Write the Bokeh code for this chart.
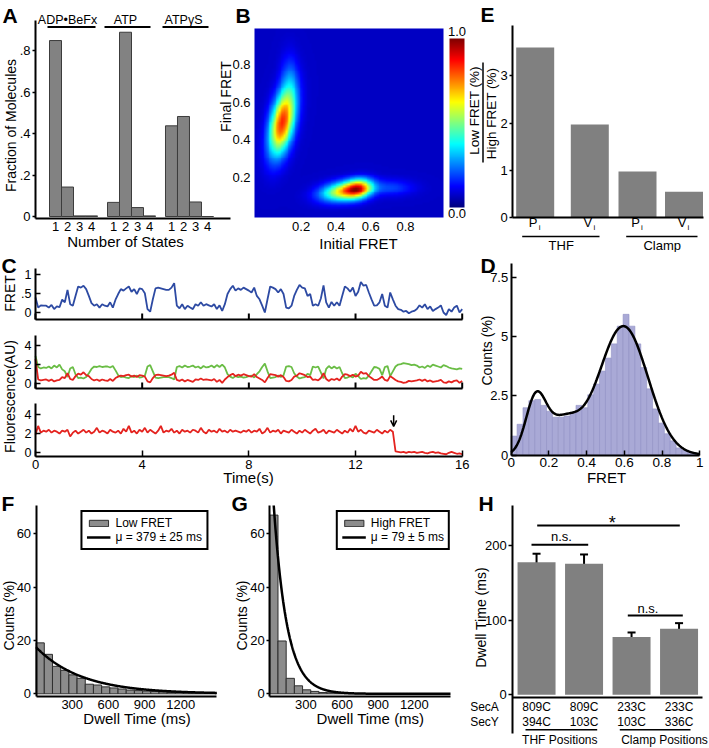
import numpy as np
from bokeh.plotting import figure
from bokeh.models import (Range1d, Label, Arrow, OpenHead, FixedTicker, Legend, LegendItem,
                          LinearColorMapper, Whisker, ColumnDataSource, TeeHead)
from bokeh.core.properties import value
from bokeh.layouts import row, column
from bokeh.embed import file_html
from bokeh.resources import INLINE

FONT = "Liberation Sans"

# ======================= DATA =======================
# A: fraction of molecules vs number of states
a_groups = ["ADP•BeFx", "ATP", "ATPγS"]
a_states = ["1", "2", "3", "4"]
a_adp_befx = [0.848, 0.142, 0.003, 0.003]
a_atp = [0.068, 0.888, 0.043, 0.003]
a_atpgs = [0.437, 0.482, 0.070, 0.0]

# B: transition density plot, components
b_cx = [0.088, 0.44, 0.53, 0.13, 0.72]
b_cy = [0.49, 0.12, 0.135, 0.72, 0.14]
b_sx = [0.047, 0.09, 0.055, 0.035, 0.09]
b_sy = [0.12, 0.035, 0.035, 0.10, 0.03]
b_kx = [0.18, 0.0, 0.0, 0.0, 0.0]
b_ky = [0.0, 0.10, 0.10, 0.0, 0.0]
b_amp = [1.15, 0.82, 0.85, 0.2, 0.18]
b_floor = 0.07
b_ticks = [0.2, 0.4, 0.6, 0.8]

# C: single-molecule traces (0.1 s frames)
c_fret = [0.40, 0.13, 0.19, 0.18, 0.18, 0.13, 0.20, 0.09, 0.16, 0.14,
          0.34, 0.27, 0.60, 0.22, 0.18, 0.44, 0.69, 0.66, 0.71, 0.62,
          0.44, 0.25, 0.18, 0.22, 0.13, 0.22, 0.18, 0.16, 0.27, 0.13,
          0.34, 0.49, 0.62, 0.58, 0.64, 0.69, 0.55, 0.62, 0.49, 0.64,
          0.62, 0.51, 0.09, 0.02, 0.35, 0.64, 0.66, 0.64, 0.62, 0.60,
          0.60, 0.66, 0.78, 0.18, 0.11, 0.22, 0.09, 0.18, 0.13, 0.09,
          0.22, 0.18, 0.27, 0.18, 0.22, 0.19, 0.16, 0.22, 0.09, 0.19,
          0.04, 0.22, 0.49, 0.62, 0.71, 0.58, 0.64, 0.60, 0.66, 0.62,
          0.58, 0.53, 0.66, 0.44, 0.35, 0.18, 0.00, 0.35, 0.69, 0.66,
          0.62, 0.53, 0.62, 0.49, 0.13, 0.11, 0.18, 0.44, 0.60, 0.73,
          0.66, 0.64, 0.44, 0.49, 0.18, 0.22, 0.18, 0.37, 0.72, 0.27,
          0.13, 0.28, 0.18, 0.27, 0.18, 0.44, 0.69, 0.64, 0.55, 0.66,
          0.44, 0.55, 0.81, 0.71, 0.73, 0.53, 0.35, 0.18, 0.19, 0.27,
          0.49, 0.18, 0.13, 0.53, 0.35, 0.18, 0.09, 0.07, 0.02, 0.04,
          -0.02, 0.02, 0.04, 0.09, 0.19, 0.13, 0.22, 0.09, 0.16, 0.04,
          0.09, 0.13, 0.19, 0.00, -0.07, 0.09, 0.02, 0.13, 0.18, 0.00, 0.09]
c_donor = [2.9, 1.75, 1.6, 1.7, 1.65, 1.8, 1.6, 1.9, 1.7, 2.0,
           1.5, 1.3, 0.7, 1.6, 1.75, 1.0, 0.6, 0.65, 0.55, 0.7,
           1.1, 1.55, 1.8, 1.75, 1.85, 1.75, 1.8, 1.8, 1.7, 1.85,
           1.4, 0.9, 0.7, 0.75, 0.65, 0.6, 0.8, 0.7, 0.85, 0.65,
           0.7, 0.85, 1.8, 1.95, 1.3, 0.65, 0.6, 0.65, 0.7, 0.7,
           0.7, 0.6, 0.45, 1.75, 1.85, 1.7, 1.9, 1.75, 1.8, 1.9,
           1.7, 1.8, 1.6, 1.85, 1.7, 1.75, 1.9, 1.7, 1.95, 1.75,
           2.0, 1.7, 1.0, 0.75, 0.6, 0.8, 0.7, 0.75, 0.65, 0.7,
           0.8, 0.85, 0.65, 1.0, 1.3, 1.75, 2.1, 1.3, 0.6, 0.65,
           0.7, 0.85, 0.7, 0.9, 1.8, 1.85, 1.75, 1.1, 0.75, 0.55,
           0.65, 0.7, 1.05, 0.9, 1.8, 1.7, 1.8, 1.2, 0.55, 1.55,
           1.85, 1.6, 1.8, 1.6, 1.75, 1.1, 0.6, 0.65, 0.8, 0.65,
           1.05, 0.8, 0.5, 0.6, 0.55, 0.85, 1.3, 1.75, 1.7, 1.55,
           0.9, 1.75, 1.85, 0.8, 1.3, 1.8, 2.0, 2.05, 2.15, 2.1,
           2.05, 1.95, 2.0, 1.9, 1.7, 1.8, 1.65, 1.9, 1.75, 2.0,
           1.9, 1.8, 1.7, 1.95, 1.85, 1.7, 1.6, 1.55, 1.5, 1.6, 1.55]
c_acceptor = [2.6, 0.45, 0.35, 0.4, 0.45, 0.3, 0.45, 0.25, 0.35, 0.4,
              0.7, 0.6, 1.1, 0.5, 0.4, 0.8, 1.05, 0.95, 1.2, 0.9,
              0.8, 0.5, 0.35, 0.45, 0.3, 0.45, 0.35, 0.3, 0.5, 0.3,
              0.6, 0.75, 0.85, 0.8, 0.9, 0.95, 0.75, 0.85, 0.7, 0.9,
              0.85, 0.75, 0.25, 0.15, 0.6, 0.9, 0.95, 0.9, 0.85, 0.8,
              0.85, 0.95, 1.15, 0.4, 0.3, 0.45, 0.25, 0.4, 0.3, 0.2,
              0.45, 0.4, 0.55, 0.4, 0.45, 0.4, 0.35, 0.5, 0.2, 0.4,
              0.1, 0.45, 0.7, 0.9, 1.05, 0.8, 0.95, 0.85, 1.0, 0.9,
              0.8, 0.75, 1.0, 0.7, 0.55, 0.4, 0.15, 0.6, 1.0, 0.95,
              0.9, 0.75, 0.9, 0.7, 0.3, 0.25, 0.4, 0.75, 0.85, 1.1,
              1.0, 0.9, 0.7, 0.75, 0.4, 0.45, 0.35, 0.6, 1.1, 0.5,
              0.3, 0.5, 0.4, 0.55, 0.35, 0.75, 1.0, 0.95, 0.8, 0.95,
              0.75, 0.85, 1.25, 1.05, 1.1, 0.8, 0.6, 0.4, 0.4, 0.55,
              0.75, 0.4, 0.3, 0.8, 0.6, 0.4, 0.25, 0.2, 0.1, 0.15,
              0.3, 0.25, 0.3, 0.35, 0.45, 0.3, 0.45, 0.25, 0.35, 0.2,
              0.25, 0.3, 0.4, 0.15, 0.1, 0.25, 0.15, 0.3, 0.35, 0.1, 0.3]
c_acceptor_direct = [1.9, 2.8, 2.1, 2.3, 2.2, 2.4, 2.1, 2.3, 2.2, 2.0,
                     2.3, 2.2, 2.4, 1.7, 2.1, 2.3, 2.0, 2.2, 2.4, 2.1,
                     2.3, 2.0, 2.2, 2.6, 2.1, 2.3, 2.2, 2.0, 2.4, 2.2,
                     2.1, 2.3, 2.0, 2.5, 2.2, 2.8, 2.1, 2.3, 2.0, 2.4,
                     2.2, 2.6, 2.1, 2.4, 2.2, 2.0, 2.3, 2.8, 2.1, 2.3,
                     2.2, 2.5, 2.1, 2.3, 2.0, 2.4, 2.2, 2.3, 2.1, 2.4,
                     2.3, 2.1, 2.6, 2.2, 2.0, 2.4, 2.2, 2.3, 2.1, 2.5,
                     2.2, 2.3, 2.1, 2.4, 2.2, 2.3, 2.2, 2.1, 2.3, 2.2,
                     2.4, 2.1, 2.3, 2.2, 2.5, 2.0, 2.2, 2.6, 2.1, 2.3,
                     2.2, 2.4, 2.0, 2.3, 2.2, 2.1, 2.4, 2.2, 2.0, 2.3,
                     2.1, 2.4, 2.2, 2.0, 2.3, 2.5, 2.1, 2.2, 2.4, 2.0,
                     2.3, 2.2, 2.1, 2.4, 2.2, 2.0, 2.3, 2.1, 2.5, 2.2,
                     2.8, 2.2, 2.4, 2.1, 2.0, 2.3, 2.2, 2.1, 2.4, 2.2,
                     2.0, 2.3, 2.1, 2.4, 2.2, 0.15, 0.1, 0.05, 0.1, 0.0,
                     0.1, 0.05, 0.1, 0.0, 0.05, 0.1, 0.0, -0.05, 0.05, 0.1,
                     0.0, 0.05, -0.05, -0.1, -0.15, 0.0, 0.1, 0.0, -0.1, -0.05, -0.15]
c_frame_s = 0.1
c_bleach_s = 13.43
c_time_ticks = [0, 4, 8, 12, 16]

# D: FRET histogram (32 bins on 0..1) and Gaussian fit
d_counts = [0.8, 1.3, 2.0, 2.3, 2.35, 2.1, 1.85, 1.6, 1.6, 1.65,
            1.8, 2.1, 2.0, 2.55, 3.0, 3.55, 4.1, 4.7, 5.45, 5.95,
            5.45, 4.7, 3.7, 2.8, 1.95, 1.35, 0.9, 0.6, 0.3, 0.2, 0.1, 0.03]
d_fit_mu = [0.13, 0.27, 0.595]
d_fit_sd = [0.053, 0.09, 0.13]
d_fit_amp = [2.23, 1.4, 5.45]

# E: ratio low/high FRET
e_groups = ["THF", "Clamp"]
e_labels = ["P", "V", "P", "V"]
e_values = [3.6, 1.97, 0.98, 0.55]

# F / G: dwell-time histograms (68 ms bins) and exponential fit curves as drawn
dwell_bin_ms = 68
f_counts = [19.1, 14.8, 10.3, 8.8, 7.1, 5.8, 3.6, 3.3, 2.6, 2.2, 1.8,
            1.4, 1.2, 1.0, 0.9, 0.7, 0.5, 0.6, 0.4, 0.3, 0.3, 0.2]
f_fit_amp, f_fit_tau = 17.5, 379
g_counts = [67.0, 19.8, 5.8, 3.0, 1.5, 0.9, 0.5, 0.4, 0.3, 0.2, 0.1,
            0.1, 0.05, 0.05, 0, 0, 0, 0, 0, 0, 0, 0]
g_fit_amp, g_fit_tau = 95, 110
dwell_ticks = [300, 600, 900, 1200]

# H: dwell times per labelling pair
h_seca = ["809C", "809C", "233C", "233C"]
h_secy = ["394C", "103C", "103C", "336C"]
h_groups = ["THF Positions", "Clamp Positions"]
h_dwell = [177.5, 175.5, 77.5, 88.5]
h_err = [11.5, 12.5, 6.0, 7.5]


# ======================= HELPERS =======================
def panel(left, top, w, h, box=None, xr=None, yr=None, axes=True):
    """Figure whose frame fills the canvas; axes are pinned (fixed_location) to the plot box."""
    if box is None:
        box, xr, yr = (left, left + w, top, top + h), (0, w), (0, h)
    fl, fr, ft, fb = box
    sx = (xr[1] - xr[0]) / (fr - fl)
    sy = (yr[1] - yr[0]) / (fb - ft)
    X0, X1 = xr[0] + (left - fl) * sx, xr[0] + (left + w - fl) * sx
    Y0, Y1 = yr[0] + (fb - (top + h)) * sy, yr[0] + (fb - top) * sy
    kw = {} if axes else dict(x_axis_location=None, y_axis_location=None)
    p = figure(width=w, height=h, x_range=Range1d(X0, X1), y_range=Range1d(Y0, Y1),
               output_backend="svg", toolbar_location=None,
               min_border_left=0, min_border_right=0, min_border_top=0, min_border_bottom=0, **kw)
    p.outline_line_color = None
    p.grid.visible = False
    p.background_fill_color = "white"
    p.border_fill_color = "white"
    if axes:
        p.xaxis.fixed_location = yr[0]
        p.yaxis.fixed_location = xr[0]
        p.xaxis.bounds = tuple(xr)
        p.yaxis.bounds = tuple(yr)

    def m(ix, iy):
        return xr[0] + (ix - fl) * sx, yr[0] + (fb - iy) * sy
    return p, m


def axstyle(ax, size="13px", lw=2, tin=0, tout=0, standoff=3, ticks=None, overrides=None):
    ax.axis_line_width = lw
    ax.axis_line_color = "black"
    ax.major_tick_line_width = 1.5
    ax.major_tick_line_color = "black"
    ax.major_tick_in = tin
    ax.major_tick_out = tout
    ax.minor_tick_line_color = None
    ax.major_label_text_font = FONT
    ax.major_label_text_font_size = size
    ax.major_label_text_color = "black"
    ax.major_label_standoff = standoff
    if ticks is not None:
        ax.ticker = FixedTicker(ticks=ticks)
    if overrides is not None:
        ax.major_label_overrides = overrides


def txt(p, m, ix, iy, text, size=13, angle=0, align="center", base="middle", bold=False):
    x, y = m(ix, iy)
    p.add_layout(Label(x=x, y=y, text=text, angle=angle, text_align=align, text_baseline=base,
                       text_font=FONT, text_font_size=f"{size}px",
                       text_font_style="bold" if bold else "normal", text_color="black"))


def hseg(p, m, ix0, ix1, iy, lw=1.5):
    x0, y0 = m(ix0, iy)
    x1, _ = m(ix1, iy)
    p.segment(x0=[x0], y0=[y0], x1=[x1], y1=[y0], line_color="black", line_width=lw)


def vseg(p, m, ix, iy0, iy1, lw=1.5):
    x0, y0 = m(ix, iy0)
    _, y1 = m(ix, iy1)
    p.segment(x0=[x0], y0=[y0], x1=[x0], y1=[y1], line_color="black", line_width=lw)


def letter(p, m, ix, iy, t):
    txt(p, m, ix, iy, t, size=21, align="left", base="top", bold=True)


# ======================= PANEL A (canvas also hosts B's y title) =======================
pA, mA = panel(0, 0, 232, 252, (35, 230, 8, 218), (0, 195 / 12), (-2 / 207.5, 208 / 207.5))
a_x = [round((20 + 58 * g + 12 * s) / 12, 4) for g in range(3) for s in range(4)]
a_top = a_adp_befx + a_atp + a_atpgs
pA.vbar(x=a_x, top=a_top, width=1.0, bottom=0, fill_color="#828282", line_color="#3c3c3c", line_width=1)
axstyle(pA.xaxis[0], ticks=a_x, overrides={x: a_states[i % 4] for i, x in enumerate(a_x)}, standoff=3)
axstyle(pA.yaxis[0], tout=3, standoff=2, ticks=[0, 0.2, 0.4, 0.6, 0.8],
        overrides={0: "0", 0.2: ".2", 0.4: ".4", 0.6: ".6", 0.8: ".8"})
pA.yaxis[0].bounds = (-2 / 207.5, 0.945)
for gi, (cx, lx0, lx1) in enumerate([(67, 47, 95), (125, 104, 150), (183, 162, 208)]):
    txt(pA, mA, cx, 19, a_groups[gi], size=12.5)
    hseg(pA, mA, lx0, lx1, 26.5, lw=2)
txt(pA, mA, 10.5, 125, "Fraction of Molecules", size=14, angle=np.pi / 2)
txt(pA, mA, 125, 241, "Number of States", size=15)
txt(pA, mA, 225, 96, "Final FRET", size=14, angle=np.pi / 2)
letter(pA, mA, 2, 3, "A")

# ======================= PANEL B (+ colour bar) =======================
bxr, byr = (-0.068, 1.018), (-0.015, 0.994)
pB, mB = panel(232, 0, 234, 252, (254, 443, 28, 217), bxr, byr)


def jet(v):
    r = np.clip(1.5 - abs(4 * v - 3), 0, 1)
    g = np.clip(1.5 - abs(4 * v - 2), 0, 1)
    b = np.clip(1.5 - abs(4 * v - 1), 0, 1)
    return "#%02x%02x%02x" % (int(r * 255), int(g * 255), int(b * 255))


jet_palette = [jet(v) for v in np.linspace(0, 1, 256)]
cmap = LinearColorMapper(palette=jet_palette, low=0, high=1)
gx = np.linspace(bxr[0], bxr[1], 110)
gy = np.linspace(byr[0], byr[1], 100)
GX, GY = np.meshgrid(gx, gy)
S = np.zeros_like(GX)
for cx, cy, sx, sy, kx, ky, amp in zip(b_cx, b_cy, b_sx, b_sy, b_kx, b_ky, b_amp):
    dx = (GX - cx) - kx * (GY - cy)
    dy = (GY - cy) - ky * (GX - cx)
    S += amp * np.exp(-0.5 * (dx / sx) ** 2 - 0.5 * (dy / sy) ** 2)
Z = b_floor + (1 - b_floor) * S / S.max()
pB.image(image=[Z], x=bxr[0], y=byr[0], dw=bxr[1] - bxr[0], dh=byr[1] - byr[0], color_mapper=cmap)
for ax in (pB.xaxis[0], pB.yaxis[0]):
    axstyle(ax, ticks=b_ticks, standoff=4)
    ax.axis_line_color = None
    ax.major_tick_line_color = None
grad = np.linspace(0, 1, 256).reshape(256, 1)
gx0, gy0 = mB(449, 207)
gx1, gy1 = mB(464, 38)
pB.image(image=[grad], x=gx0, y=gy0, dw=gx1 - gx0, dh=gy1 - gy0, color_mapper=cmap)
txt(pB, mB, 456.5, 31, "1.0", size=13)
txt(pB, mB, 456.5, 213, "0.0", size=13)
txt(pB, mB, 358, 243, "Initial FRET", size=15)
letter(pB, mB, 235, 3, "B")

# ======================= PANEL E =======================
pE, mE = panel(466, 0, 243, 252, (512.3, 702.7, 25, 217.3), (0, 190.4 / 47), (0, 192.3 / 47.3))
e_pos = [round((c - 512.3) / 47, 4) for c in (534.7, 589.3, 637.0, 683.5)]
pE.vbar(x=e_pos, top=e_values, width=38 / 47, fill_color="#808080", line_color=None)
axstyle(pE.xaxis[0], ticks=[])
axstyle(pE.yaxis[0], tout=3, standoff=2, ticks=[0, 1, 2, 3])
for i, xd in enumerate(e_pos):
    ix = 512.3 + xd * 47
    txt(pE, mE, ix - 2, 222, e_labels[i], size=13)
    txt(pE, mE, ix + 4.5, 227, "i", size=8)
hseg(pE, mE, 521.7, 599, 236)
hseg(pE, mE, 625.7, 697, 236)
txt(pE, mE, 560.7, 245, e_groups[0], size=13)
txt(pE, mE, 661.7, 245, e_groups[1], size=13)
txt(pE, mE, 474, 110, "Low FRET (%)", size=13.5, angle=np.pi / 2)
txt(pE, mE, 491, 113, "High FRET (%)", size=13.5, angle=np.pi / 2)
vseg(pE, mE, 482.5, 62, 162, lw=1.5)
letter(pE, mE, 480, 2, "E")

# ======================= PANEL C =======================
c_t = [round(i * c_frame_s, 2) for i in range(len(c_fret))]


def c_ticks(p, yr, px_per_unit):
    p.segment(x0=c_time_ticks, y0=[yr[0]] * 5, x1=c_time_ticks, y1=[yr[0] + 6 / px_per_unit] * 5,
              line_color="black", line_width=2)


c_top_yr = (-0.186, 1.167)
pCt, mCt = panel(0, 252, 470, 69, (35, 461.7, 268, 319), (0, 16.0), c_top_yr)
pCt.line(c_t, c_fret, line_color="#2D4AA3", line_width=1.8)
axstyle(pCt.xaxis[0], ticks=[])
c_ticks(pCt, c_top_yr, 51 / (c_top_yr[1] - c_top_yr[0]))
axstyle(pCt.yaxis[0], tin=5, ticks=[0, 0.5, 1], overrides={0: "0", 0.5: ".5", 1: "1"}, standoff=4, size="12.5px")
txt(pCt, mCt, 9, 293, "FRET", size=14, angle=np.pi / 2)
letter(pCt, mCt, 1, 253, "C")

c_mid_yr = (-0.49, 5.03)
pCm, mCm = panel(22, 321, 448, 71, (35, 461.7, 335, 388), (0, 16.0), c_mid_yr)
pCm.line(c_t, c_donor, line_color="#6ABD45", line_width=1.8)
pCm.line(c_t, c_acceptor, line_color="#E4231F", line_width=1.8)
axstyle(pCm.xaxis[0], ticks=[])
c_ticks(pCm, c_mid_yr, 53 / (c_mid_yr[1] - c_mid_yr[0]))
axstyle(pCm.yaxis[0], tin=5, ticks=[0, 2, 4], standoff=4, size="12.5px")

pCb, mCb = panel(22, 392, 448, 98, (35, 461.7, 403, 456), (0, 16.0), (-0.385, 5.135))
pCb.line(c_t, c_acceptor_direct, line_color="#E4231F", line_width=1.8)
axstyle(pCb.xaxis[0], tin=6, ticks=c_time_ticks, standoff=3, size="13px")
axstyle(pCb.yaxis[0], tin=5, ticks=[0, 2, 4], standoff=4, size="12.5px")
pCb.add_layout(Arrow(end=OpenHead(size=6, line_width=1.5), x_start=c_bleach_s, y_start=3.9,
                     x_end=c_bleach_s, y_end=2.75, line_width=1.5, line_color="black"))
txt(pCb, mCb, 248, 477, "Time(s)", size=15)

pClab, mClab = panel(0, 321, 22, 169, axes=False)
txt(pClab, mClab, 9, 396, "Fluorescence(AU)", size=14, angle=np.pi / 2)

# ======================= PANEL D =======================
pD, mD = panel(470, 252, 239, 238, (510.7, 699.2, 263, 455), (0, 1.0), (-0.02, 8.1))
d_edges = np.linspace(0, 1, len(d_counts) + 1)
pD.quad(left=d_edges[:-1], right=d_edges[1:], top=d_counts, bottom=0,
        fill_color="#A9A9D6", line_color="#9090C4", line_width=0.6)
d_x = np.linspace(0, 1, 400)
d_y = sum(a * np.exp(-0.5 * ((d_x - mu) / sd) ** 2) for mu, sd, a in zip(d_fit_mu, d_fit_sd, d_fit_amp))
pD.line(d_x, d_y, line_color="black", line_width=2.5)
axstyle(pD.xaxis[0], tin=5, ticks=[0, 0.2, 0.4, 0.6, 0.8, 1],
        overrides={0: "0", 0.2: "0.2", 0.4: "0.4", 0.6: "0.6", 0.8: "0.8", 1: "1"}, standoff=2, size="13.5px")
axstyle(pD.yaxis[0], tin=5, ticks=[0, 2.5, 5, 7.5], standoff=3, size="13px")
txt(pD, mD, 486.5, 350, "Counts (%)", size=14, angle=np.pi / 2)
txt(pD, mD, 606, 476.7, "FRET", size=15)
letter(pD, mD, 480, 253, "D")


# ======================= PANELS F, G =======================
def dwell_panel(left, w, box_l, box_r, counts, amp, tau, lab, fitlab, margin, title_x, ylab_x, let, let_x):
    yr = (-1.01, 70.6)
    p, m = panel(left, 490, w, 258, (box_l, box_r, 505, 696), (0, 1500), yr)
    edges = np.arange(len(counts) + 1) * dwell_bin_ms
    r1 = p.quad(left=edges[:-1], right=edges[1:], top=counts, bottom=0,
                fill_color="#8C8C8C", line_color="#2e2e2e", line_width=1)
    t_start = max(0.0, tau * np.log(amp / yr[1]))
    tt = np.linspace(t_start, 1500, 600)
    r2 = p.line(tt, amp * np.exp(-tt / tau), line_color="black", line_width=2.5)
    axstyle(p.xaxis[0], ticks=dwell_ticks, standoff=3)
    axstyle(p.yaxis[0], tout=3, standoff=2, ticks=[0, 20, 40, 60])
    leg = Legend(items=[LegendItem(label=value(lab), renderers=[r1]),
                        LegendItem(label=value(fitlab), renderers=[r2])],
                 location="top_right", margin=margin, padding=4, spacing=0,
                 glyph_width=24, glyph_height=8, label_height=12, label_standoff=5,
                 label_text_font=FONT, label_text_font_size="12px", label_text_color="black",
                 border_line_color="black", border_line_width=2, border_line_alpha=1.0,
                 background_fill_color="white", background_fill_alpha=1)
    p.add_layout(leg)
    txt(p, m, ylab_x, 615, "Counts (%)", size=14, angle=np.pi / 2)
    txt(p, m, title_x, 718, "Dwell Time (ms)", size=15)
    letter(p, m, let_x, 491, let)
    return p


pF = dwell_panel(0, 228, 35.6, 216.3, f_counts, f_fit_amp, f_fit_tau, "Low FRET",
                 "μ = 379 ± 25 ms", 20, 136.7, 8.5, "F", 1)
pG = dwell_panel(228, 242, 269.3, 450, g_counts, g_fit_amp, g_fit_tau, "High FRET",
                 "μ = 79 ± 5 ms", 20, 370, 241.5, "G", 231)

# ======================= PANEL H =======================
h_yr = (-3.2, 253.6)
pH, mH = panel(470, 490, 239, 258, (512.3, 702.3, 505, 696.7), (0.5, 4.5), h_yr)
h_x = [1, 2, 3, 4]
pH.vbar(x=h_x, top=h_dwell, width=0.8, fill_color="#808080", line_color=None)
src = ColumnDataSource(dict(x=h_x, upper=[v + e for v, e in zip(h_dwell, h_err)],
                            lower=[v - e for v, e in zip(h_dwell, h_err)]))
pH.add_layout(Whisker(base="x", upper="upper", lower="lower", source=src, line_width=2, line_color="black",
                      upper_head=TeeHead(size=8, line_width=2, line_color="black"),
                      lower_head=TeeHead(size=8, line_width=2, line_color="black")))
axstyle(pH.xaxis[0], ticks=[])
axstyle(pH.yaxis[0], tout=4, standoff=2, ticks=[0, 100, 200])
pH.yaxis[0].bounds = (mH(512.3, 733)[1], h_yr[1])
hseg(pH, mH, 531, 587.7, 544.3, lw=2)
hseg(pH, mH, 536.7, 679.3, 525, lw=2)
hseg(pH, mH, 627.3, 682.3, 615, lw=2)
txt(pH, mH, 561, 536, "n.s.", size=13)
txt(pH, mH, 647.5, 608, "n.s.", size=13)
txt(pH, mH, 611.7, 522, "*", size=18)
_, ya = mH(0, 706.7)
_, yb = mH(0, 721.7)
for i, xv in enumerate(h_x):
    pH.add_layout(Label(x=xv, y=ya, text=h_seca[i], text_align="center", text_baseline="middle",
                        text_font=FONT, text_font_size="12px", text_color="black"))
    pH.add_layout(Label(x=xv, y=yb, text=h_secy[i], text_align="center", text_baseline="middle",
                        text_font=FONT, text_font_size="12px", text_color="black"))
txt(pH, mH, 484, 706.7, "SecA", size=12)
txt(pH, mH, 484, 721.7, "SecY", size=12)
hseg(pH, mH, 525, 596.7, 729.3)
hseg(pH, mH, 619.3, 690, 729.3)
txt(pH, mH, 559.3, 739.3, h_groups[0], size=12)
txt(pH, mH, 664, 739.3, h_groups[1], size=12)
txt(pH, mH, 480, 617, "Dwell Time (ms)", size=14, angle=np.pi / 2)
letter(pH, mH, 478, 491, "H")

# ======================= LAYOUT =======================
layout = column(
    row(pA, pB, pE),
    row(column(pCt, row(pClab, column(pCm, pCb))), pD),
    row(pF, pG, pH),
)
open("out.html", "w").write(file_html(layout, INLINE))
